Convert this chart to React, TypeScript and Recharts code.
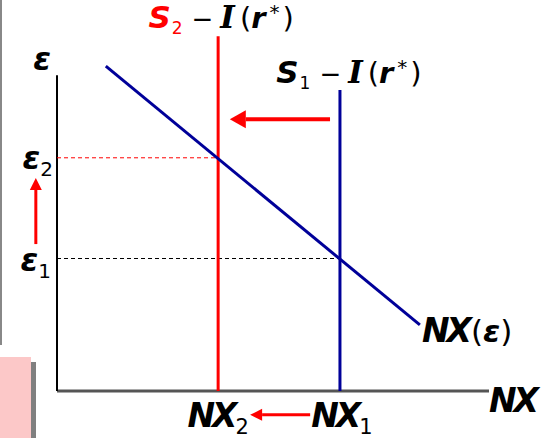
import { ComposedChart, XAxis, YAxis, Line, ReferenceLine, ReferenceDot } from "recharts";

// chart units: x = NX (0..100), y = real exchange rate ε (0..100)
const curveX = [11.3, 84.0];
const curveY = [90.0, 18.3];
const nxValues = [65.5, 37.3]; // NX1, NX2
const epsValues = [36.7, 64.6]; // ε1, ε2
const scheduleTops = [83.4, 98.3]; // top of S1-I and S2-I
const axisTop = 87.5;

// arrows showing the shift: [from, to]
const scheduleArrow = [{ x: 63.2, y: 75.3 }, { x: 40.0, y: 75.3 }];
const epsArrow = [{ x: -4.9, y: 40.7 }, { x: -4.9, y: 59.0 }];
const nxArrow = [{ x: 58.6, y: -6.6 }, { x: 44.7, y: -6.6 }];

const RED = "#ff0000";
const BLUE = "#000099";
const SANS = "DejaVu Sans";
const SERIF = "DejaVu Serif";

const curveData = curveX.map((x, i) => ({ x, y: curveY[i] }));
const s1Data = [{ x: nxValues[0], y: 0 }, { x: nxValues[0], y: scheduleTops[0] }];
const s2Data = [{ x: nxValues[1], y: 0 }, { x: nxValues[1], y: scheduleTops[1] }];

const bi = { fontWeight: "bold", fontStyle: "italic" } as const;

const arrow = (head: number, half: number, width: number) => (p: any) => {
  const { x1, y1, x2, y2 } = p;
  const a = Math.atan2(y2 - y1, x2 - x1);
  const bx = x2 - Math.cos(a) * head;
  const by = y2 - Math.sin(a) * head;
  const nx = -Math.sin(a) * half;
  const ny = Math.cos(a) * half;
  return (
    <g>
      <line x1={x1} y1={y1} x2={bx} y2={by} stroke={RED} strokeWidth={width} />
      <polygon points={`${x2},${y2} ${bx + nx},${by + ny} ${bx - nx},${by - ny}`} fill={RED} />
    </g>
  );
};

const label = (dx: number, dy: number, anchor: string, body: any) => (p: any) => (
  <text x={p.cx + dx} y={p.cy + dy} textAnchor={anchor} fontFamily={SANS} fontSize={28} fill="#000">
    {body}
  </text>
);

const scheduleText = (n: string, color: string) => (
  <>
    <tspan fill={color} {...bi} fontSize={31}>S</tspan>
    <tspan fill={color} fontSize={17} dx={1} dy={6}>{n}</tspan>
    <tspan dx={9} dy={-6} fontSize={26}>−</tspan>
    <tspan dx={7} fontFamily={SERIF} {...bi} fontSize={31}>I</tspan>
    <tspan dx={5} fontSize={29}>(</tspan>
    <tspan {...bi} fontSize={29}>r</tspan>
    <tspan dx={4} fontSize={20} dy={-9}>*</tspan>
    <tspan dx={3} fontSize={29} dy={9}>)</tspan>
  </>
);

const nxText = (n: string) => (
  <>
    <tspan {...bi} fontSize={33} letterSpacing={-3}>NX</tspan>
    <tspan fontSize={21} dx={1} dy={7}>{n}</tspan>
  </>
);

const epsText = (n: string) => (
  <>
    <tspan {...bi} fontSize={32}>ε</tspan>
    <tspan fontSize={20} dy={7}>{n}</tspan>
  </>
);

export default function App() {
  return (
    <div style={{ position: "absolute", left: 0, top: 0, width: 544, height: 438, background: "#fff" }}>
      <div style={{ position: "absolute", left: 0, top: 0, width: 2, height: 345, background: "#888" }} />
      <div style={{ position: "absolute", left: 31, top: 362, width: 5, height: 76, background: "#808080" }} />
      <div style={{ position: "absolute", left: 0, top: 357, width: 31, height: 81, background: "#fcc8c8" }} />
      <ComposedChart
        width={544}
        height={438}
        margin={{ top: 30, right: 55, bottom: 47, left: 57 }}
        style={{ position: "absolute", left: 0, top: 0 }}
      >
        <XAxis type="number" dataKey="x" domain={[0, 100]} hide />
        <YAxis type="number" dataKey="y" domain={[0, 100]} hide />

        <ReferenceLine segment={[{ x: 0, y: 0 }, { x: 100, y: 0 }]} stroke="#555" strokeWidth={3} />
        <ReferenceLine segment={[{ x: 0, y: 0 }, { x: 0, y: axisTop }]} stroke="#000" strokeWidth={2} />

        <ReferenceLine
          segment={[{ x: 0, y: epsValues[1] }, { x: nxValues[1], y: epsValues[1] }]}
          stroke={RED}
          strokeWidth={1}
          strokeDasharray="4 3"
        />
        <ReferenceLine
          segment={[{ x: 0, y: epsValues[0] }, { x: nxValues[0], y: epsValues[0] }]}
          stroke="#000"
          strokeWidth={1}
          strokeDasharray="4 3"
        />

        <Line data={s2Data} dataKey="y" stroke={RED} strokeWidth={3} dot={false} isAnimationActive={false} />
        <Line data={s1Data} dataKey="y" stroke={BLUE} strokeWidth={3} dot={false} isAnimationActive={false} />
        <Line data={curveData} dataKey="y" stroke={BLUE} strokeWidth={3} dot={false} isAnimationActive={false} />

        <ReferenceLine segment={scheduleArrow} ifOverflow="visible" shape={arrow(16, 9, 4)} />
        <ReferenceLine segment={epsArrow} ifOverflow="visible" shape={arrow(12, 6, 3)} />
        <ReferenceLine segment={nxArrow} ifOverflow="visible" shape={arrow(12, 6, 3)} />

        <ReferenceDot x={0} y={axisTop} r={0} ifOverflow="visible" shape={label(-6, -5, "end", <tspan {...bi} fontSize={32}>ε</tspan>)} />
        <ReferenceDot x={0} y={epsValues[1]} r={0} ifOverflow="visible" shape={label(-4, 11, "end", epsText("2"))} />
        <ReferenceDot x={0} y={epsValues[0]} r={0} ifOverflow="visible" shape={label(-6, 12, "end", epsText("1"))} />
        <ReferenceDot x={nxValues[1]} y={0} r={0} ifOverflow="visible" shape={label(0, 36, "middle", nxText("2"))} />
        <ReferenceDot x={nxValues[0]} y={0} r={0} ifOverflow="visible" shape={label(2, 36, "middle", nxText("1"))} />
        <ReferenceDot x={100} y={0} r={0} ifOverflow="visible" shape={label(0, 21, "start", <tspan {...bi} fontSize={33} letterSpacing={-3}>NX</tspan>)} />
        <ReferenceDot
          x={curveX[1]}
          y={curveY[1]}
          r={0}
          ifOverflow="visible"
          shape={label(2, 17, "start", (
            <>
              <tspan {...bi} fontSize={33} letterSpacing={-3}>NX</tspan>
              <tspan fontSize={31} dx={2}>(</tspan>
              <tspan {...bi} fontSize={31}>ε</tspan>
              <tspan fontSize={31}>)</tspan>
            </>
          ))}
        />
        <ReferenceDot x={nxValues[1]} y={scheduleTops[1]} r={0} ifOverflow="visible" shape={label(3, -8, "middle", scheduleText("2", RED))} />
        <ReferenceDot x={nxValues[0]} y={scheduleTops[0]} r={0} ifOverflow="visible" shape={label(9, -7, "middle", scheduleText("1", "#000"))} />
      </ComposedChart>
    </div>
  );
}
